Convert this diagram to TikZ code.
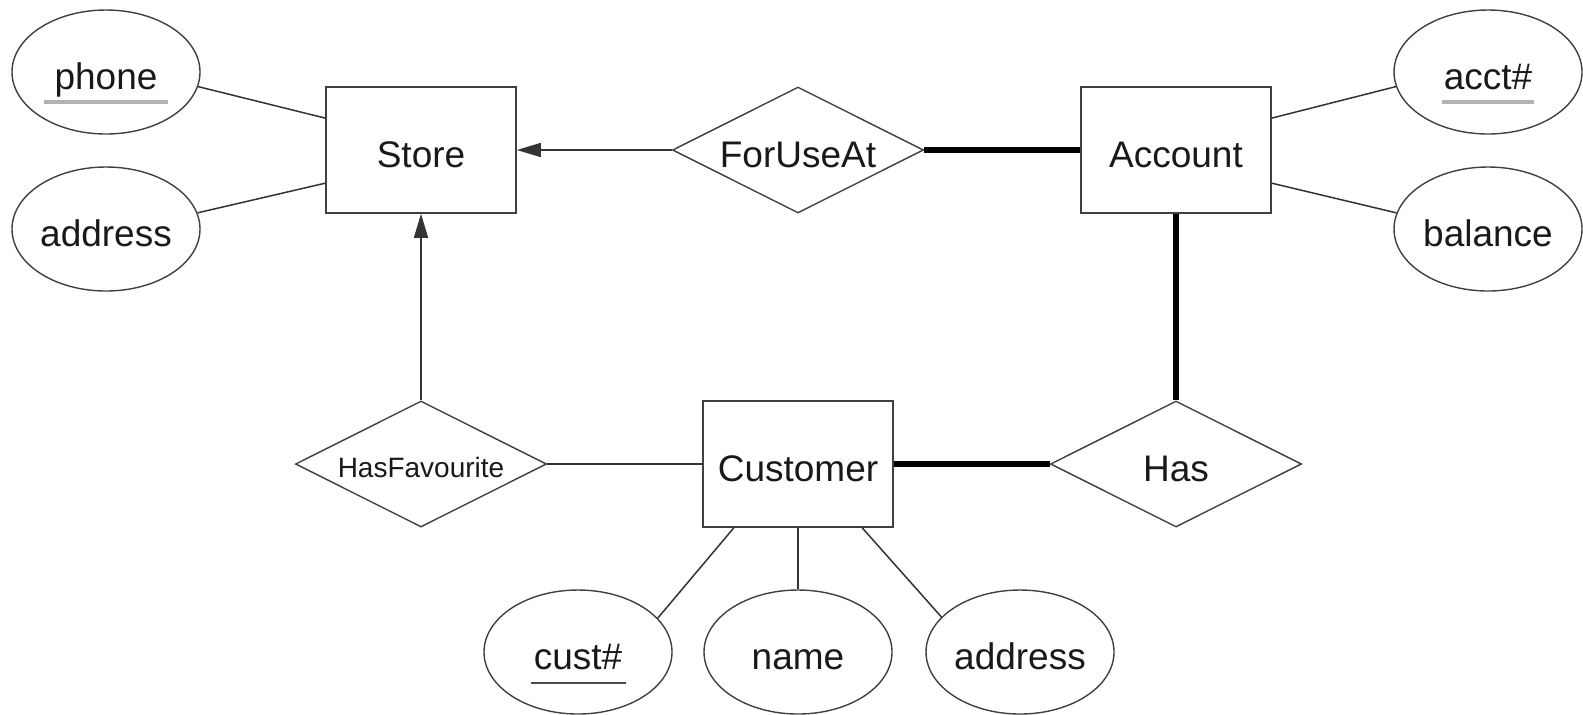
\documentclass[tikz,border=0pt]{standalone}
\usepackage{fontspec}
\setmainfont{Liberation Sans}
\usetikzlibrary{shapes.geometric,arrows.meta,calc}
\begin{document}
\begin{tikzpicture}[x=0.5pt,y=-0.5pt,
  every node/.style={text=black!90, font=\fontsize{18.5}{22}\selectfont, text height=17.2pt, text depth=0pt},
  entity/.style={draw=black!75, line width=0.8pt, rectangle, minimum width=95pt, minimum height=63pt, inner sep=0pt},
  rel/.style={draw=black!75, line width=0.7pt, diamond, shape aspect=2, minimum width=125.5pt, minimum height=63pt, inner sep=0pt},
  attr/.style={draw=black!75, line width=0.7pt, ellipse, minimum width=94pt, minimum height=62pt, inner sep=0pt},
  conn/.style={draw=black!80, line width=0.75pt},
  thick conn/.style={draw=black, line width=3.3pt},
  isa/.style={conn, -{Triangle[length=12pt,width=7pt]}},
  keyline/.style={draw=black!30, line width=2pt},
  keyline dark/.style={draw=black!70, line width=1pt}
]
\useasboundingbox (0,0) rectangle (1583,714);

% entities
\node[entity] (store) at (421,150) {Store};
\node[entity] (account) at (1176,150) {Account};
\node[entity] (customer) at (798,464) {Customer};

% relationships
\node[rel] (foruse) at (798,150) {ForUseAt};
\node[rel, font=\fontsize{14}{16}\selectfont, text height=13pt] (hasfav) at (421,464) {HasFavourite};
\node[rel] (has) at (1176,464) {Has};

% attributes
\node[attr] (phone) at (106,72) {phone};
\node[attr] (saddr) at (106,229) {address};
\node[attr] (acct) at (1488,72) {acct\#};
\node[attr] (balance) at (1488,229) {balance};
\node[attr] (cust) at (578,652) {cust\#};
\node[attr] (cname) at (798,652) {name};
\node[attr] (caddr) at (1020,652) {address};

% key underlines
\draw[keyline] ([xshift=-31pt,yshift=-15pt]phone.center) -- ([xshift=31pt,yshift=-15pt]phone.center);
\draw[keyline] ([xshift=-23pt,yshift=-15pt]acct.center) -- ([xshift=23pt,yshift=-15pt]acct.center);
\draw[keyline dark] ([xshift=-23.5pt,yshift=-15.5pt]cust.center) -- ([xshift=24pt,yshift=-15.5pt]cust.center);

% attribute connectors
\draw[conn] (phone.-9) -- ($(store.north west)!0.25!(store.south west)$);
\draw[conn] (saddr.10) -- ($(store.north west)!0.76!(store.south west)$);
\draw[conn] (acct.-171) -- ($(account.north east)!0.25!(account.south east)$);
\draw[conn] (balance.170) -- ($(account.north east)!0.76!(account.south east)$);
\draw[conn] (cust.23) -- ($(customer.south west)!0.165!(customer.south east)$);
\draw[conn] (cname.north) -- (customer.south);
\draw[conn] (caddr.156) -- ($(customer.south west)!0.835!(customer.south east)$);

% relationship connectors
\draw[isa] (foruse.west) -- (store.east);
\draw[isa] (hasfav.north) -- (store.south);
\draw[conn] (hasfav.east) -- (customer.west);
\draw[thick conn] (foruse.east) -- (account.west);
\draw[thick conn] (account.south) -- (has.north);
\draw[thick conn] (customer.east) -- (has.west);
\end{tikzpicture}
\end{document}
